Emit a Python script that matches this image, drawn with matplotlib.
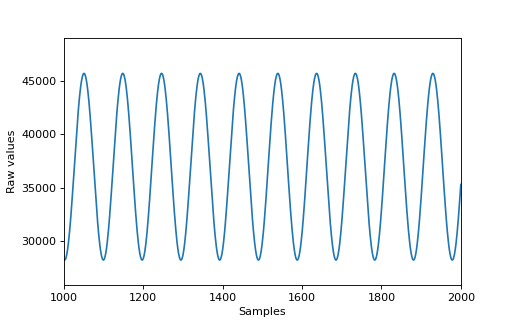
import numpy as np
import matplotlib
matplotlib.use("Agg")
import matplotlib.pyplot as plt

# signal: a pure sinusoid
sample_start = 1000
sample_end = 2000
mean_value = 36970
amplitude = 8750
period = 97.7
first_peak = 1050.4

samples = np.arange(sample_start, sample_end + 1)
raw = mean_value + amplitude * np.cos(2 * np.pi * (samples - first_peak) / period)

fig, ax = plt.subplots(figsize=(6.4, 4.0), dpi=80)
ax.plot(samples, raw)
ax.set_xlim(sample_start, sample_end)
ax.set_ylim(25900, 49000)
ax.set_xlabel('Samples')
ax.set_ylabel('Raw values')
fig.savefig('out.png')
